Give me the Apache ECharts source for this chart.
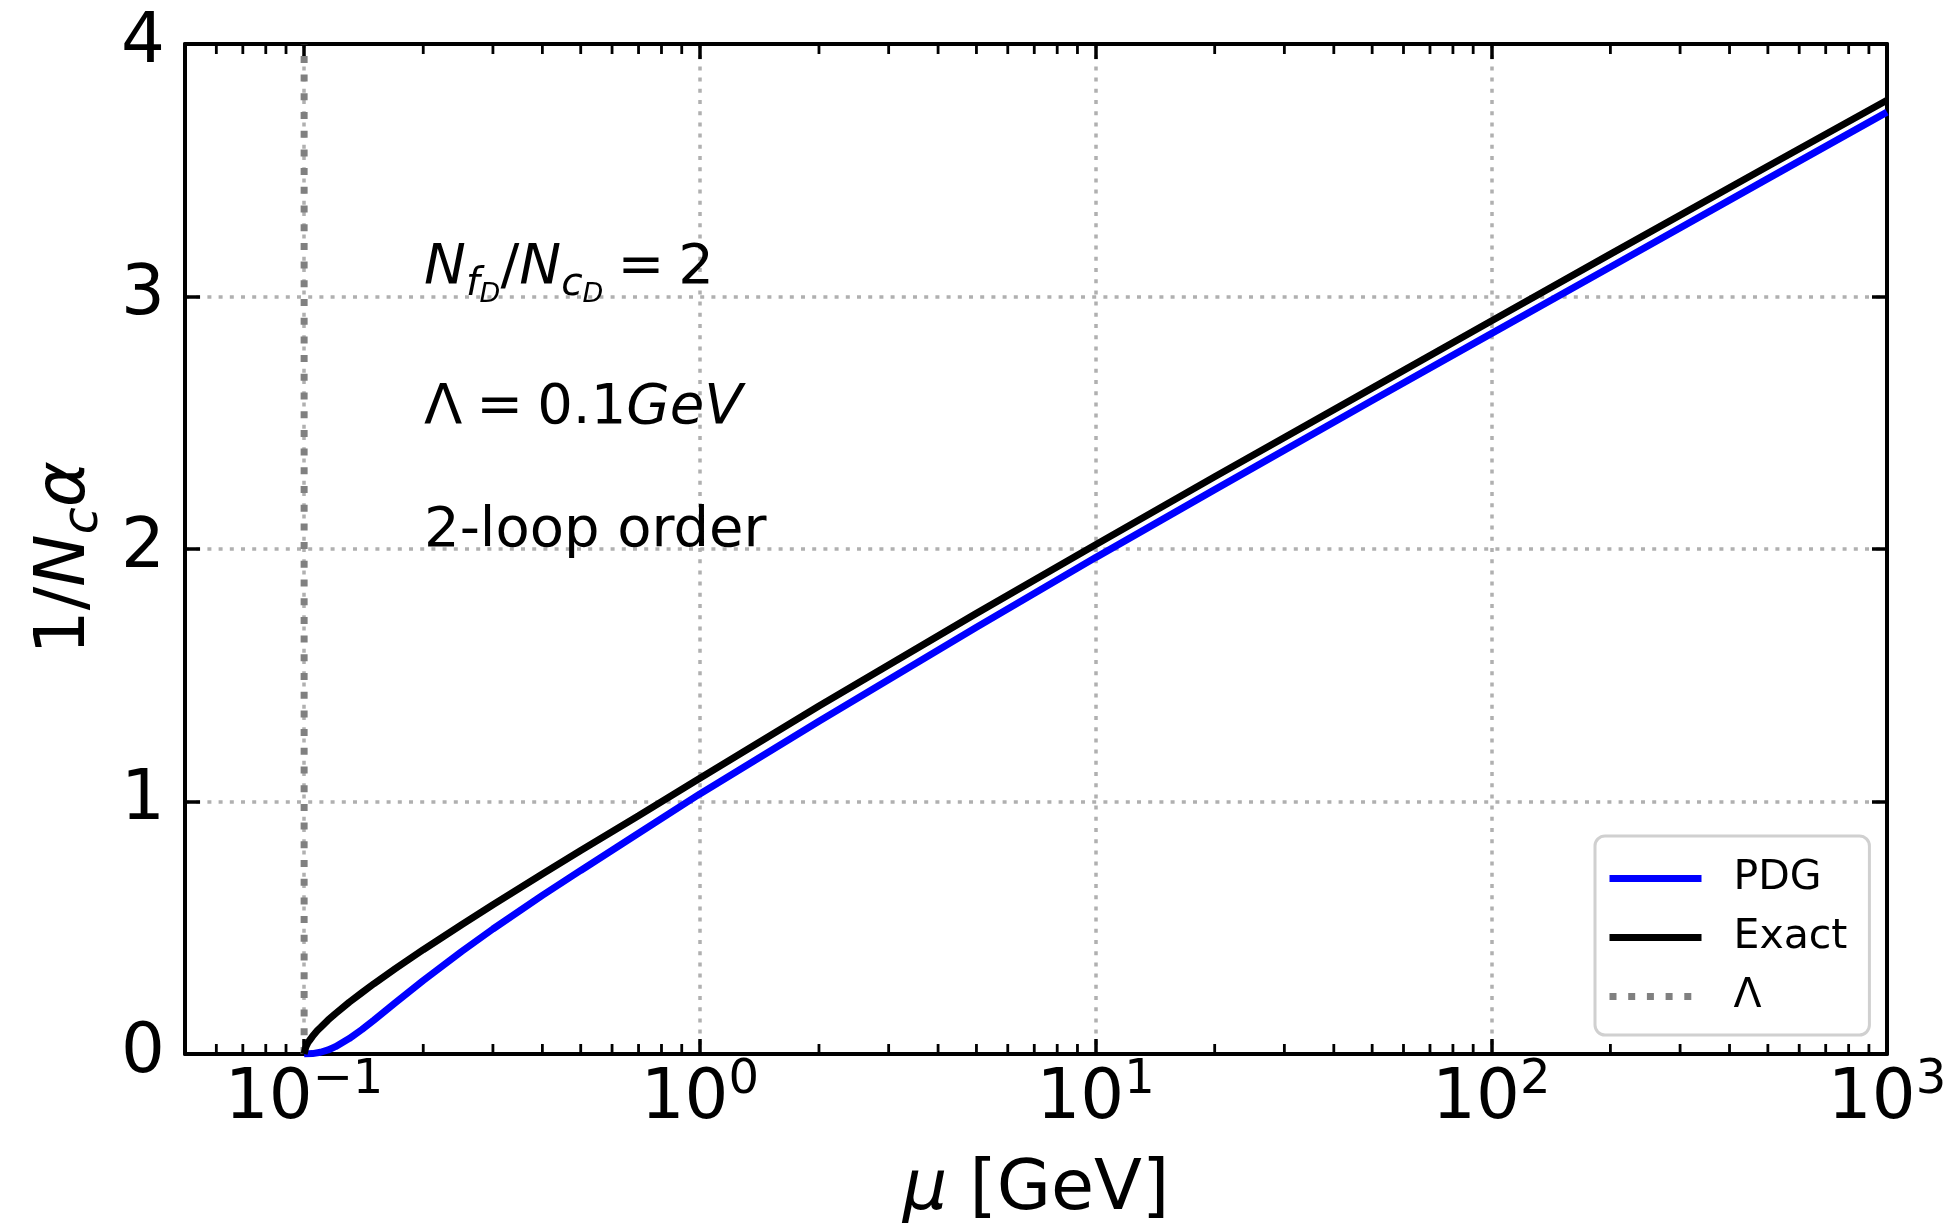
<!DOCTYPE html>
<html>
<head>
<meta charset="utf-8">
<script src="https://cdn.jsdelivr.net/npm/echarts@6/dist/echarts.min.js"></script>
<style>
  html, body { margin: 0; padding: 0; background: #fff; }
  #chart { width: 1957px; height: 1231px; }
</style>
</head>
<body>
<div id="chart"></div>
<script>
// values
const muExact = [0.1, 0.101, 0.102, 0.103, 0.105, 0.108, 0.11, 0.115, 0.12, 0.13, 0.14, 0.15, 0.17, 0.2, 0.25, 0.3, 0.4, 0.5, 0.7, 1, 2, 5, 10, 20, 50, 100, 200, 500, 1000]
const exactVals = [0, 0.028, 0.042, 0.052, 0.07, 0.093, 0.105, 0.135, 0.16, 0.205, 0.243, 0.278, 0.338, 0.413, 0.512, 0.591, 0.713, 0.806, 0.944, 1.092, 1.378, 1.745, 2.017, 2.286, 2.637, 2.903, 3.168, 3.516, 3.777]

const muPdg = [0.1, 0.105, 0.11, 0.115, 0.12, 0.13, 0.14, 0.15, 0.17, 0.2, 0.25, 0.3, 0.4, 0.5, 0.7, 1, 2, 5, 10, 20, 50, 100, 200, 500, 1000]
const pdgVals = [0, 0.0015, 0.007, 0.016, 0.029, 0.061, 0.097, 0.134, 0.203, 0.291, 0.406, 0.495, 0.628, 0.727, 0.874, 1.03, 1.318, 1.69, 1.966, 2.235, 2.588, 2.853, 3.117, 3.467, 3.73]

const lambdaMu = 0.1
const lambdaSpan = [0, 4]

const xMin = 0.05
const xMax = 1000
const yTicks = [0, 1, 2, 3, 4]
const minorMu = [0.06, 0.07, 0.08, 0.09,
  0.2, 0.3, 0.4, 0.5, 0.6, 0.7, 0.8, 0.9,
  2, 3, 4, 5, 6, 7, 8, 9,
  20, 30, 40, 50, 60, 70, 80, 90,
  200, 300, 400, 500, 600, 700, 800, 900]

const FONT = 'DejaVu Sans'
const chart = echarts.init(document.getElementById('chart'))

const pair = (xs, ys) => xs.map((x, i) => [x, ys[i]])

function logLabel(v) {
  const e = Math.round(Math.log10(v))
  const s = String(e).replace('-', '\u2212')
  return '{b|10}{s|' + s + '}'
}

const spine = { show: true, onZero: false, lineStyle: { color: '#000', width: 4 } }
const gridLine = { show: true, lineStyle: { color: '#b0b0b0', width: 3.5, type: [4, 7.2] } }
const majorTick = { show: true, inside: true, length: 15, lineStyle: { color: '#000', width: 3.5 } }

const option = {
  animation: false,
  backgroundColor: '#fff',
  grid: { left: 185, right: 70, top: 44, bottom: 174 },
  xAxis: [
    {
      type: 'log',
      logBase: 10,
      min: xMin,
      max: xMax,
      position: 'bottom',
      axisLine: spine,
      axisTick: majorTick,
      splitLine: gridLine,
      axisLabel: {
        show: true,
        margin: 2,
        showMinLabel: false,
        color: '#000',
        formatter: logLabel,
        rich: {
          b: { fontFamily: FONT, fontSize: 69, color: '#000', verticalAlign: 'top', padding: [10, 0, 0, 0] },
          s: { fontFamily: FONT, fontSize: 48, color: '#000', verticalAlign: 'top', padding: [1, 0, 0, 0] }
        }
      },
      name: '{i|μ}{n| [GeV]}',
      nameLocation: 'middle',
      nameGap: 102,
      nameTextStyle: {
        rich: {
          i: { fontFamily: FONT, fontSize: 70, fontStyle: 'italic', color: '#000' },
          n: { fontFamily: FONT, fontSize: 70, color: '#000' }
        }
      }
    },
    {
      type: 'log',
      logBase: 10,
      min: xMin,
      max: xMax,
      position: 'top',
      axisLine: spine,
      axisTick: majorTick,
      axisLabel: { show: false },
      splitLine: { show: false }
    }
  ],
  yAxis: [
    {
      type: 'value',
      min: yTicks[0],
      max: yTicks[yTicks.length - 1],
      interval: 1,
      position: 'left',
      axisLine: spine,
      axisTick: majorTick,
      splitLine: gridLine,
      axisLabel: { margin: 20, fontFamily: FONT, fontSize: 69, color: '#000' },
      name: '{n|1/}{i|N}{c|c}{i|α}',
      nameLocation: 'middle',
      nameGap: 76,
      nameTextStyle: {
        padding: [0, 18, 0, 0],
        rich: {
          n: { fontFamily: FONT, fontSize: 70, color: '#000', verticalAlign: 'top', padding: [0, 0, 0, 0] },
          i: { fontFamily: FONT, fontSize: 70, fontStyle: 'italic', color: '#000', verticalAlign: 'top', padding: [0, 0, 0, 0] },
          c: { fontFamily: FONT, fontSize: 49, fontStyle: 'italic', color: '#000', verticalAlign: 'top', padding: [29, 0, 0, 0] }
        }
      }
    },
    {
      type: 'value',
      min: yTicks[0],
      max: yTicks[yTicks.length - 1],
      interval: 1,
      position: 'right',
      axisLine: spine,
      axisTick: majorTick,
      axisLabel: { show: false },
      splitLine: { show: false }
    }
  ],
  legend: {
    orient: 'vertical',
    left: 1595,
    top: 836,
    padding: [22, 22, 18, 11],
    itemWidth: 92,
    itemHeight: 20,
    itemGap: 18,
    backgroundColor: '#fff',
    borderColor: '#d0d0d0',
    borderWidth: 3,
    borderRadius: 10,
    itemStyle: { opacity: 0 },
    lineStyle: { width: 7 },
    textStyle: { fontFamily: FONT, fontSize: 41, color: '#000', padding: [0, 0, 0, 27] },
    data: ['PDG', 'Exact', 'Λ']
  },
  series: [
    {
      name: 'PDG',
      type: 'line',
      data: pair(muPdg, pdgVals),
      showSymbol: false,
      symbol: 'none',
      lineStyle: { color: '#0000ff', width: 7 },
      itemStyle: { color: '#0000ff' },
      z: 3
    },
    {
      name: 'Exact',
      type: 'line',
      data: pair(muExact, exactVals),
      showSymbol: false,
      symbol: 'none',
      lineStyle: { color: '#000000', width: 7 },
      itemStyle: { color: '#000000' },
      z: 4
    },
    {
      name: 'Λ',
      type: 'line',
      data: lambdaSpan.map(y => [lambdaMu, y]),
      showSymbol: false,
      symbol: 'none',
      lineStyle: { color: '#808080', width: 7, type: [7, 11.7] },
      itemStyle: { color: '#808080' },
      z: 2
    }
  ]
}

chart.setOption(option)

// matplotlib-like minor ticks on the log axis (bottom and top), plus the text block
const yBot = chart.convertToPixel({ yAxisIndex: 0 }, yTicks[0])
const yTop = chart.convertToPixel({ yAxisIndex: 0 }, yTicks[yTicks.length - 1])
const extras = []
minorMu.forEach(m => {
  const x = chart.convertToPixel({ xAxisIndex: 0 }, m)
  extras.push({ type: 'line', silent: true, z: 10, shape: { x1: x, y1: yBot, x2: x, y2: yBot - 10 }, style: { stroke: '#000', lineWidth: 2.8 } })
  extras.push({ type: 'line', silent: true, z: 10, shape: { x1: x, y1: yTop, x2: x, y2: yTop + 10 }, style: { stroke: '#000', lineWidth: 2.8 } })
})

const annoRich = {
  N: { fontFamily: FONT, fontSize: 56, fontStyle: 'italic', fill: '#000', verticalAlign: 'top', padding: [8, 0, 0, 0] },
  n: { fontFamily: FONT, fontSize: 56, fill: '#000', verticalAlign: 'top', padding: [8, 0, 0, 0] },
  s: { fontFamily: FONT, fontSize: 39, fontStyle: 'italic', fill: '#000', verticalAlign: 'top', padding: [33, 0, 0, 0] },
  ss: { fontFamily: FONT, fontSize: 27, fontStyle: 'italic', fill: '#000', verticalAlign: 'top', padding: [49, 0, 0, 0] }
}
const sp = '\u2005'

extras.push(
  {
    type: 'text', left: 424, top: 240, z: 20,
    style: { text: '{N|N}{s|f}{ss|D}{n|/}{N|N}{s|c}{ss|D}{n|' + sp + '=' + sp + '2}', rich: annoRich }
  },
  {
    type: 'text', x: 424, y: 404, z: 20,
    style: { text: '{n|Λ' + sp + '=' + sp + '0.1}{N|GeV}', rich: annoRich, verticalAlign: 'middle' }
  },
  {
    type: 'text', x: 424, y: 531, z: 20,
    style: { text: '2-loop order', fontFamily: FONT, fontSize: 56, fill: '#000', verticalAlign: 'middle' }
  }
)

chart.setOption({ graphic: extras })
</script>
</body>
</html>
